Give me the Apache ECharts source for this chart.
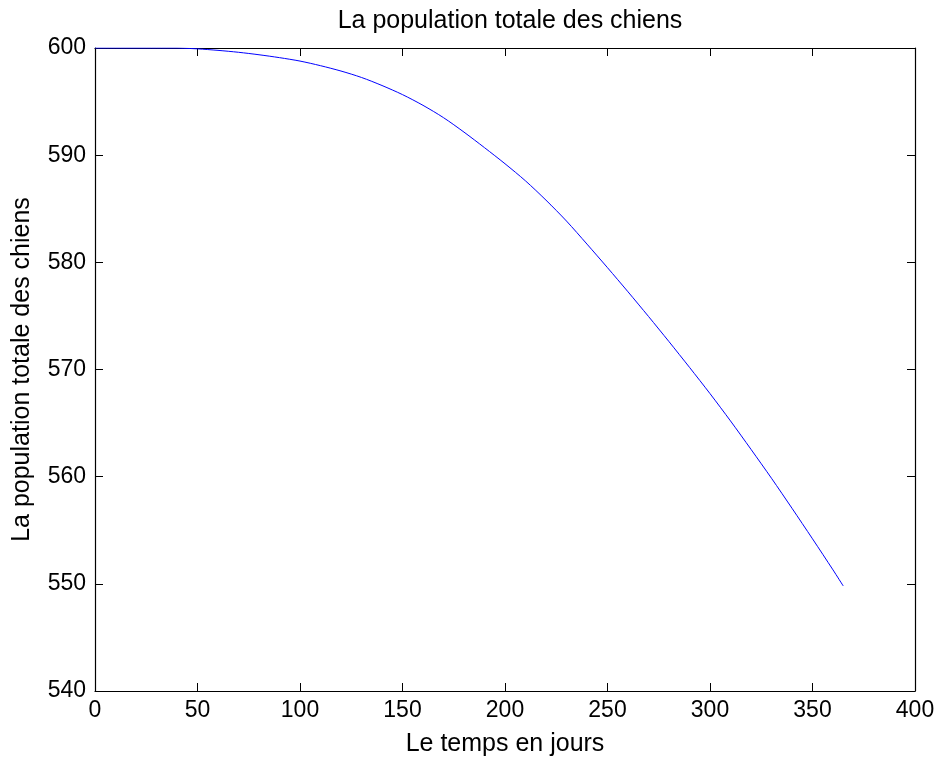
<!DOCTYPE html>
<html>
<head>
<meta charset="utf-8">
<script src="https://cdn.jsdelivr.net/npm/echarts@6/dist/echarts.min.js"></script>
<style>
  html, body { margin: 0; padding: 0; background: #fff; }
  #chart { width: 938px; height: 758px; }
</style>
</head>
<body>
<div id="chart"></div>
<script>
// Total dog population over one year (days 0..365)
const days = [0, 10, 20, 30, 40, 43, 50, 60, 70, 80, 90, 100, 110, 120, 130, 140, 150, 160, 170, 180,
  190, 200, 210, 220, 230, 240, 250, 260, 270, 280, 290, 300, 310, 320, 330, 340, 350, 360, 365];
const population = [600, 600, 600, 600, 600, 599.98, 599.92, 599.78, 599.6, 599.37, 599.1, 598.78, 598.35,
  597.85, 597.25, 596.5, 595.65, 594.65, 593.5, 592.15, 590.7, 589.2, 587.6, 585.8, 583.85, 581.7, 579.5,
  577.25, 574.95, 572.6, 570.2, 567.75, 565.2, 562.55, 559.85, 557.05, 554.2, 551.3, 549.8];
const xTicks = { min: 0, max: 400, step: 50 };
const yTicks = { min: 540, max: 600, step: 10 };

const titleText = 'La population totale des chiens';
const xName = 'Le temps en jours';
const yName = 'La population totale des chiens';

const FONT = 'Liberation Sans, Arial, Helvetica, sans-serif';
const axisLine = { show: true, onZero: false, lineStyle: { color: '#000', width: 1.2 } };
const tickIn = { show: true, inside: true, length: 8, lineStyle: { color: '#000', width: 1 } };

const chart = echarts.init(document.getElementById('chart'), null, { renderer: 'canvas' });
chart.setOption({
  animation: false,
  backgroundColor: '#fff',
  title: {
    text: titleText,
    left: 505,
    top: 4,
    textAlign: 'center',
    textStyle: { fontFamily: FONT, fontSize: 25, fontWeight: 'normal', color: '#000' }
  },
  grid: { left: 95, top: 48, right: 23, bottom: 67, containLabel: false, outerBoundsMode: 'none' },
  xAxis: [{
    type: 'value', position: 'bottom',
    min: xTicks.min, max: xTicks.max, interval: xTicks.step,
    axisLine: axisLine, axisTick: tickIn, splitLine: { show: false },
    axisLabel: { fontFamily: FONT, fontSize: 23, color: '#000', margin: 8 },
    name: xName, nameLocation: 'middle', nameGap: 41,
    nameTextStyle: { fontFamily: FONT, fontSize: 25, color: '#000' }
  }, {
    type: 'value', position: 'top',
    min: xTicks.min, max: xTicks.max, interval: xTicks.step,
    axisLine: axisLine, axisTick: tickIn, axisLabel: { show: false }, splitLine: { show: false }
  }],
  yAxis: [{
    type: 'value', position: 'left',
    min: yTicks.min, max: yTicks.max, interval: yTicks.step,
    axisLine: axisLine, axisTick: tickIn, splitLine: { show: false },
    axisLabel: { fontFamily: FONT, fontSize: 23, color: '#000', margin: 9 },
    name: yName, nameLocation: 'middle', nameGap: 60,
    nameTextStyle: { fontFamily: FONT, fontSize: 25, color: '#000' }
  }, {
    type: 'value', position: 'right',
    min: yTicks.min, max: yTicks.max, interval: yTicks.step,
    axisLine: axisLine, axisTick: tickIn, axisLabel: { show: false }, splitLine: { show: false }
  }],
  series: [{
    type: 'line',
    data: days.map((d, i) => [d, population[i]]),
    showSymbol: false,
    smooth: 0.3,
    lineStyle: { color: '#0000ff', width: 1 },
    itemStyle: { color: '#0000ff' }
  }]
});
</script>
</body>
</html>
